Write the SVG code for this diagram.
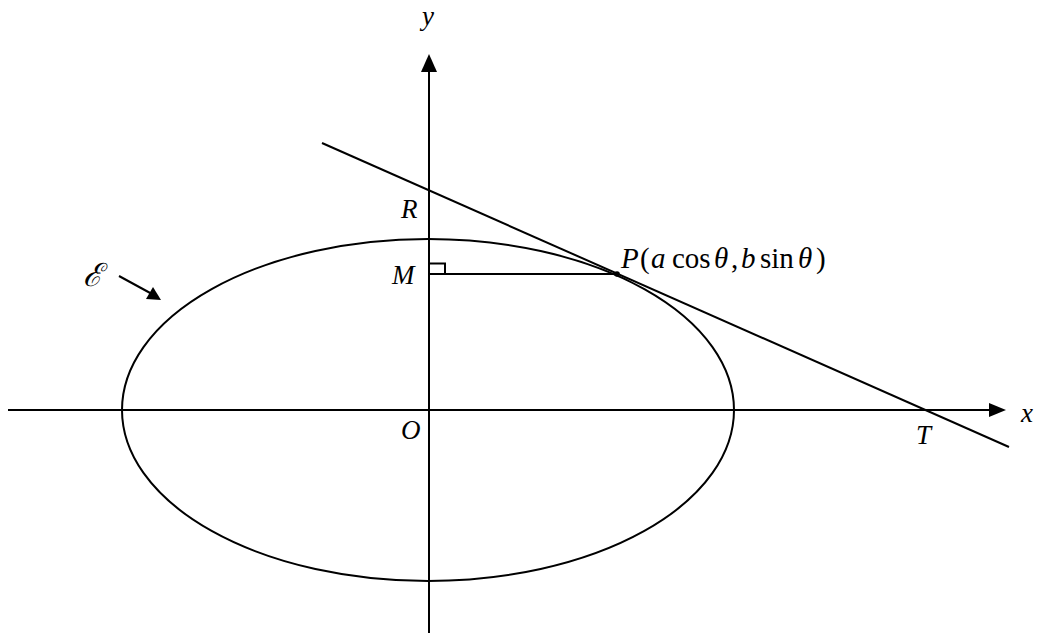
<svg xmlns="http://www.w3.org/2000/svg" width="1043" height="635" viewBox="0 0 1043 635">
<style>
.ln{stroke:#000;stroke-width:2;fill:none}
.lbl{font-family:"Liberation Serif","DejaVu Serif",serif;font-size:27px;font-style:italic;fill:#000}
.up{font-style:normal}
</style>
<rect width="1043" height="635" fill="#fff"/>
<g id="axes">
<line class="ln" x1="8" y1="410" x2="992" y2="410"/>
<polygon points="1006,410 989,403 989,417" fill="#000"/>
<line class="ln" x1="429" y1="633" x2="429" y2="70"/>
<polygon points="429,54 421,72 437,72" fill="#000"/>
<text class="lbl" x="1021" y="422">x</text>
<text class="lbl" x="422" y="25">y</text>
<text class="lbl" x="401" y="439">O</text>
</g>
<g id="ellipse">
<ellipse class="ln" cx="428" cy="410" rx="306" ry="171"/>
</g>
<g id="connectors">
<line class="ln" x1="322" y1="143" x2="1009" y2="447"/>
<line class="ln" x1="429" y1="274" x2="617" y2="274"/>
<polyline class="ln" stroke-width="1.5" points="430,263.5 445,263.5 445,274"/>
<line class="ln" x1="119" y1="276" x2="152" y2="294"/>
<polygon points="161,300 146,299 153,287" fill="#000"/>
</g>
<g id="R"><text class="lbl" x="401" y="218">R</text></g>
<g id="M"><text class="lbl" x="392" y="284">M</text></g>
<g id="T"><text class="lbl" x="916" y="444">T</text></g>
<g id="P">
<circle cx="617" cy="274" r="2.8" fill="#000"/>
<text class="lbl" y="268" style="font-size:29px"><tspan x="621">P</tspan><tspan class="up" x="640">(</tspan><tspan x="651">a</tspan><tspan class="up" x="672">cos</tspan><tspan x="714">θ</tspan><tspan class="up" x="731">,</tspan><tspan x="741">b</tspan><tspan class="up" x="760">sin</tspan><tspan x="798">θ</tspan><tspan class="up" x="816">)</tspan></text>
</g>
<g id="E"><text class="lbl" x="83" y="286" style="font-size:32px">ℰ</text></g>
</svg>
